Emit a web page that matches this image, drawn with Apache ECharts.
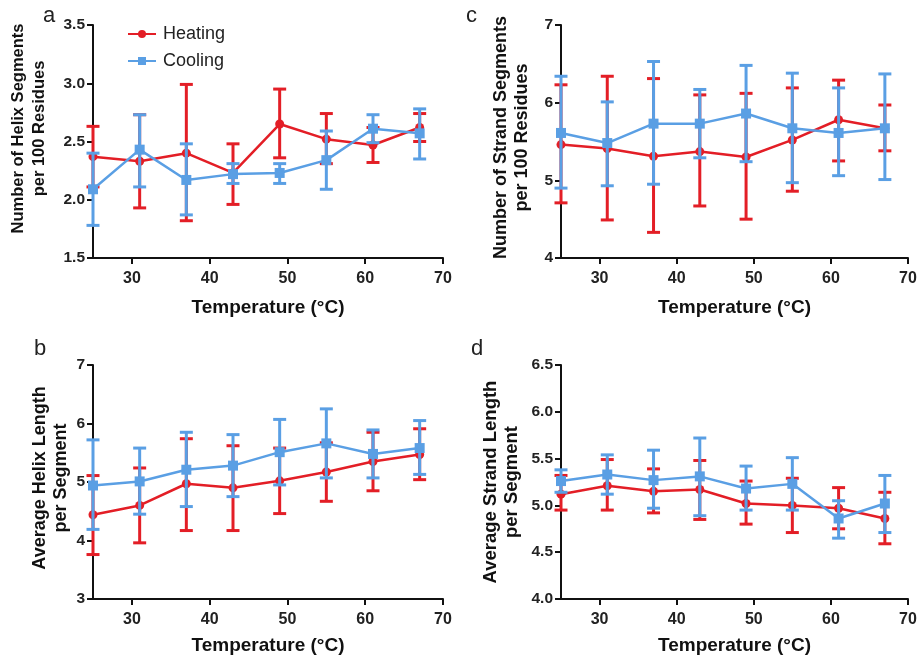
<!DOCTYPE html>
<html>
<head>
<meta charset="utf-8">
<script src="https://cdn.jsdelivr.net/npm/echarts@6/dist/echarts.min.js"></script>
<style>html,body{margin:0;padding:0;background:#fff}#c{width:920px;height:664px}</style>
</head>
<body>
<div id="c"></div>
<script>
// ---- Data ----
const temps = [25, 31, 37, 43, 49, 55, 61, 67];
const xTicks = [30, 40, 50, 60, 70];

// a: Number of Helix Segments per 100 Residues
const helixSegHeat   = [2.37, 2.33, 2.40, 2.23, 2.65, 2.52, 2.47, 2.62];
const helixSegHeatLo = [2.11, 1.93, 1.82, 1.96, 2.36, 2.31, 2.32, 2.50];
const helixSegHeatHi = [2.63, 2.73, 2.99, 2.48, 2.95, 2.74, 2.62, 2.74];
const helixSegCool   = [2.09, 2.43, 2.17, 2.22, 2.23, 2.34, 2.61, 2.57];
const helixSegCoolLo = [1.78, 2.11, 1.87, 2.14, 2.14, 2.09, 2.49, 2.35];
const helixSegCoolHi = [2.40, 2.73, 2.48, 2.31, 2.31, 2.59, 2.73, 2.78];

// b: Average Helix Length per Segment
const helixLenHeat   = [4.44, 4.60, 4.97, 4.90, 5.02, 5.17, 5.35, 5.47];
const helixLenHeatLo = [3.76, 3.96, 4.17, 4.17, 4.46, 4.67, 4.85, 5.04];
const helixLenHeatHi = [5.11, 5.24, 5.74, 5.62, 5.58, 5.67, 5.85, 5.91];
const helixLenCool   = [4.94, 5.01, 5.21, 5.28, 5.51, 5.66, 5.48, 5.58];
const helixLenCoolLo = [4.19, 4.45, 4.58, 4.75, 4.95, 5.07, 5.07, 5.13];
const helixLenCoolHi = [5.72, 5.58, 5.85, 5.81, 6.07, 6.25, 5.89, 6.05];

// c: Number of Strand Segments per 100 Residues
const strandSegHeat   = [5.46, 5.41, 5.31, 5.37, 5.30, 5.52, 5.78, 5.67];
const strandSegHeatLo = [4.71, 4.49, 4.33, 4.67, 4.50, 4.86, 5.25, 5.38];
const strandSegHeatHi = [6.23, 6.34, 6.31, 6.10, 6.12, 6.19, 6.29, 5.97];
const strandSegCool   = [5.61, 5.48, 5.73, 5.73, 5.86, 5.67, 5.61, 5.67];
const strandSegCoolLo = [4.90, 4.93, 4.95, 5.29, 5.24, 4.97, 5.06, 5.01];
const strandSegCoolHi = [6.34, 6.01, 6.53, 6.17, 6.48, 6.38, 6.19, 6.37];

// d: Average Strand Length per Segment
const strandLenHeat   = [5.12, 5.21, 5.15, 5.17, 5.02, 5.00, 4.97, 4.86];
const strandLenHeatLo = [4.95, 4.95, 4.92, 4.85, 4.80, 4.71, 4.75, 4.59];
const strandLenHeatHi = [5.32, 5.49, 5.39, 5.48, 5.26, 5.29, 5.19, 5.14];
const strandLenCool   = [5.26, 5.33, 5.27, 5.31, 5.18, 5.23, 4.86, 5.02];
const strandLenCoolLo = [5.14, 5.12, 4.97, 4.89, 4.95, 4.95, 4.65, 4.71];
const strandLenCoolHi = [5.38, 5.54, 5.59, 5.72, 5.42, 5.51, 5.05, 5.32];

// ---- Style ----
const RED = '#e31e26';
const BLUE = '#5a9fe4';
const FONT = 'Liberation Sans, Arial, sans-serif';

const panels = [
  {grid:{left:93, top:25, width:350, height:233}, min:1.5, max:3.5, interval:0.5, dec:1,
   name:'Number of Helix Segments\nper 100 Residues', nameGap:43, nameSize:16.5, xGap:40, shift:26,
   heat:[helixSegHeat, helixSegHeatLo, helixSegHeatHi], cool:[helixSegCool, helixSegCoolLo, helixSegCoolHi]},
  {grid:{left:561, top:25, width:347, height:233}, min:4, max:7, interval:1, dec:0,
   name:'Number of Strand Segments\nper 100 Residues', nameGap:28, nameSize:18, xGap:40, shift:8,
   heat:[strandSegHeat, strandSegHeatLo, strandSegHeatHi], cool:[strandSegCool, strandSegCoolLo, strandSegCoolHi]},
  {grid:{left:93, top:365, width:350, height:234}, min:3, max:7, interval:1, dec:0,
   name:'Average Helix Length\nper Segment', nameGap:21, nameSize:18, xGap:37, shift:8,
   heat:[helixLenHeat, helixLenHeatLo, helixLenHeatHi], cool:[helixLenCool, helixLenCoolLo, helixLenCoolHi]},
  {grid:{left:561, top:365, width:347, height:234}, min:4, max:6.5, interval:0.5, dec:1,
   name:'Average Strand Length\nper Segment', nameGap:39, nameSize:18.5, xGap:37, shift:0,
   heat:[strandLenHeat, strandLenHeatLo, strandLenHeatHi], cool:[strandLenCool, strandLenCoolLo, strandLenCoolHi]}
];

function errRender(params, api) {
  const x = api.value(0), lo = api.value(1), hi = api.value(2);
  const p1 = api.coord([x, hi]);
  const p2 = api.coord([x, lo]);
  const hw = 6.5;
  const style = {stroke: api.visual('color'), lineWidth: 3};
  return {type:'group', children:[
    {type:'line', shape:{x1:p1[0], y1:p1[1], x2:p2[0], y2:p2[1]}, style},
    {type:'line', shape:{x1:p1[0]-hw, y1:p1[1], x2:p1[0]+hw, y2:p1[1]}, style},
    {type:'line', shape:{x1:p2[0]-hw, y1:p2[1], x2:p2[0]+hw, y2:p2[1]}, style}
  ]};
}

const grids = [], xAxes = [], yAxes = [], series = [];
panels.forEach((p, i) => {
  grids.push(p.grid);
  xAxes.push({
    type:'value', gridIndex:i, min:25, max:70,
    name:'Temperature (°C)', nameLocation:'middle', nameGap:p.xGap,
    nameTextStyle:{fontFamily:FONT, fontWeight:'bold', fontSize:19, color:'#111'},
    axisLine:{show:true, onZero:false, lineStyle:{color:'#111', width:2}},
    axisTick:{show:true, length:6, lineStyle:{color:'#111', width:2}, customValues:xTicks},
    axisLabel:{fontFamily:FONT, fontWeight:'bold', fontSize:16, color:'#222', margin:13, customValues:xTicks},
    splitLine:{show:false}
  });
  yAxes.push({
    type:'value', gridIndex:i, min:p.min, max:p.max, interval:p.interval,
    name:p.name, nameLocation:'middle', nameGap:p.nameGap, nameRotate:90,
    nameTextStyle:{fontFamily:FONT, fontWeight:'bold', fontSize:p.nameSize, color:'#111', lineHeight:21,
      align:'center', padding:[0, 0, 0, p.shift]},
    axisLine:{show:true, onZero:false, lineStyle:{color:'#111', width:2}},
    axisTick:{show:true, length:6, lineStyle:{color:'#111', width:2}},
    axisLabel:{fontFamily:FONT, fontWeight:'bold', fontSize:15.5, color:'#222', margin:8,
      formatter: v => v.toFixed(p.dec)},
    splitLine:{show:false}
  });
  const heatLine = temps.map((t, j) => [t, p.heat[0][j]]);
  const heatErr = temps.map((t, j) => [t, p.heat[1][j], p.heat[2][j]]);
  const coolLine = temps.map((t, j) => [t, p.cool[0][j]]);
  const coolErr = temps.map((t, j) => [t, p.cool[1][j], p.cool[2][j]]);
  series.push({
    type:'custom', name:'Heating err', xAxisIndex:i, yAxisIndex:i, renderItem:errRender,
    itemStyle:{color:RED}, encode:{x:0, y:[1,2]}, data:heatErr, z:2, clip:false, silent:true
  });
  series.push({
    type:'line', name:'Heating', xAxisIndex:i, yAxisIndex:i, data:heatLine,
    symbol:'circle', symbolSize:9, lineStyle:{color:RED, width:2.5}, itemStyle:{color:RED},
    z:3, clip:false, animation:false
  });
  series.push({
    type:'custom', name:'Cooling err', xAxisIndex:i, yAxisIndex:i, renderItem:errRender,
    itemStyle:{color:BLUE}, encode:{x:0, y:[1,2]}, data:coolErr, z:4, clip:false, silent:true
  });
  series.push({
    type:'line', name:'Cooling', xAxisIndex:i, yAxisIndex:i, data:coolLine,
    symbol:'rect', symbolSize:10, lineStyle:{color:BLUE, width:2.5}, itemStyle:{color:BLUE},
    z:5, clip:false, animation:false
  });
});

const chart = echarts.init(document.getElementById('c'), null, {renderer:'canvas'});
chart.setOption({
  animation:false,
  backgroundColor:'#fff',
  grid:grids, xAxis:xAxes, yAxis:yAxes, series:series,
  legend:{
    data:['Heating','Cooling'], orient:'vertical', left:122, top:20,
    itemWidth:28, itemHeight:10, itemGap:9,
    textStyle:{fontFamily:FONT, fontSize:18, color:'#222', padding:[0, 0, 0, 2]}
  },
  graphic:[
    {type:'text', left:43, top:5, style:{text:'a', fontFamily:FONT, fontSize:22, fill:'#222'}},
    {type:'text', left:466, top:5, style:{text:'c', fontFamily:FONT, fontSize:22, fill:'#222'}},
    {type:'text', left:34, top:338, style:{text:'b', fontFamily:FONT, fontSize:22, fill:'#222'}},
    {type:'text', left:471, top:338, style:{text:'d', fontFamily:FONT, fontSize:22, fill:'#222'}}
  ]
});
</script>
</body>
</html>
